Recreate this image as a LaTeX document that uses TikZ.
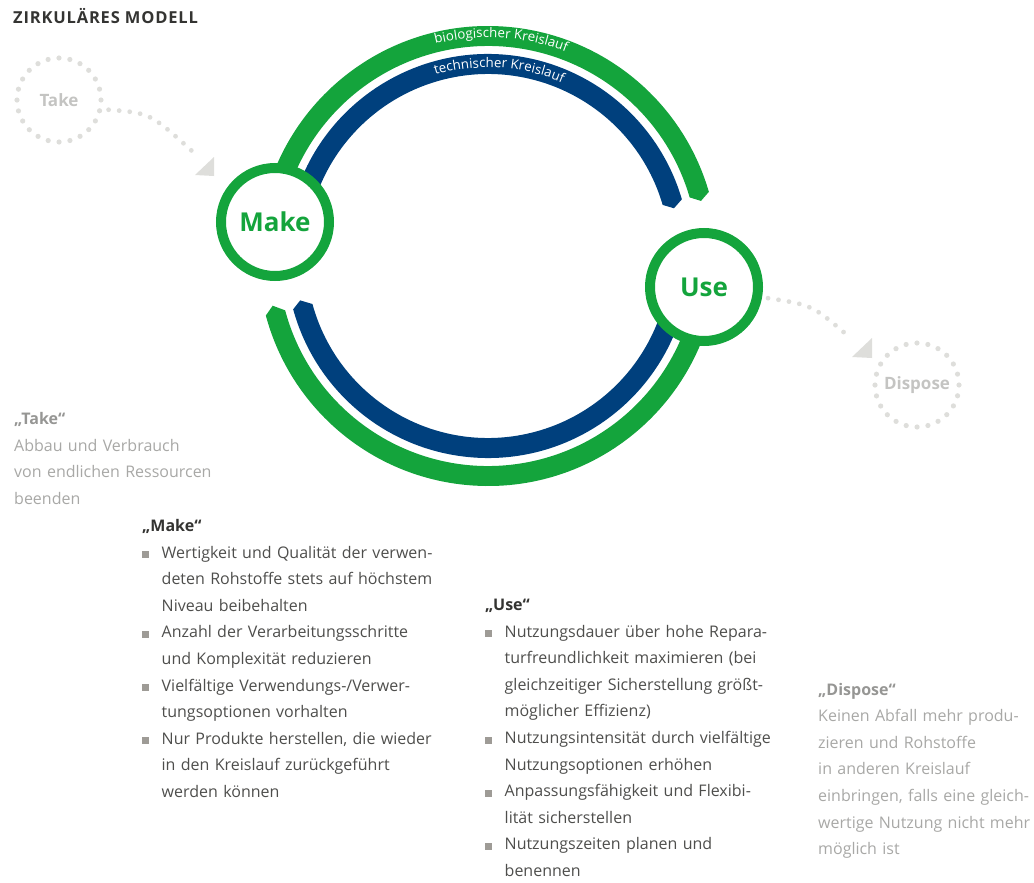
\documentclass[tikz,border=0pt]{standalone}
\usepackage{fontspec}
\setmainfont{Open Sans}
\usetikzlibrary{decorations.text}

\definecolor{cgreen}{RGB}{20,164,60}
\definecolor{cblue}{RGB}{0,64,125}
\definecolor{dotgray}{RGB}{222,222,219}
\definecolor{palegray}{RGB}{196,196,194}
\definecolor{softhead}{RGB}{150,150,148}
\definecolor{softtext}{RGB}{168,168,166}
\definecolor{darktext}{RGB}{78,78,76}
\definecolor{headtext}{RGB}{52,52,50}
\definecolor{bulletgray}{RGB}{158,155,150}

% square list marker and matching indent
\newcommand\bul{\makebox[19.5pt][l]{\textcolor{bulletgray}{\rule{7pt}{7pt}}}}
\newcommand\ind{\hspace*{19.5pt}}

% filled ring segment ending in a pointed tip
% #1 colour, #2 outer r, #3 inner r, #4 start angle, #5 end angle, #6 tip angle, #7 tip radius
\newcommand\bandseg[7]{%
  \fill[#1] ([shift={(#4:#2)}]C) arc[start angle=#4, end angle=#5, radius=#2]
    -- ([shift={(#6:#7)}]C) -- ([shift={(#5:#3)}]C)
    arc[start angle=#5, end angle=#4, radius=#3] -- cycle;}

\begin{document}
\begin{tikzpicture}[x=1pt,y=1pt,
  ring/.style={circle, draw=cgreen, line width=10pt, fill=white, minimum size=108pt,
    inner sep=0pt, text=cgreen, font=\fontsize{26}{26}\selectfont\bfseries},
  dotring/.style={circle, draw=dotgray, line width=5.2pt, line cap=round,
    dash pattern=on 0pt off 10.996pt, minimum size=84pt, inner sep=0pt,
    text=palegray, font=\fontsize{17}{17}\selectfont\bfseries},
  dotline/.style={draw=dotgray, line width=4.8pt, line cap=round,
    dash pattern=on 0pt off 10.6pt, shorten <=6pt},
  tipfill/.style={fill=dotgray},
  block/.style={anchor=base west, inner sep=0pt, align=left, text width=360pt,
    font=\fontsize{16}{26.6}\selectfont},
  arclabel/.style={decorate, decoration={text along path, text align=center,
    text color=white, text={|\fontsize{13.3}{13.3}\selectfont|#1}}},
]
\useasboundingbox (0,0) rectangle (1034,-883);

% title
\node[anchor=base west, inner sep=0pt, text=headtext,
  font=\fontsize{16.5}{16.5}\selectfont\bfseries\addfontfeatures{LetterSpace=5}]
  (title) at (13,-23.5) {ZIRKULÄRES MODELL};

% the two loops
\coordinate (C) at (488,-256);
\bandseg{cgreen}{230}{210}{175}{16.2}{14.5}{220}
\bandseg{cblue}{202}{182}{165}{16.3}{14.4}{192}
\bandseg{cgreen}{230}{210}{355}{195}{193}{221}
\bandseg{cblue}{202}{182}{350}{195.3}{193.3}{193}

\path[arclabel={biologischer Kreislauf}]
  ([shift={(120:218.5)}]C) arc[start angle=120, end angle=53, radius=218.5];
\path[arclabel={technischer Kreislauf}]
  ([shift={(124:188.5)}]C) arc[start angle=124, end angle=49, radius=188.5];

% stations
\node[ring] (make) at (275,-222) {Make};
\node[ring] (use) at (704,-287) {Use};
\node[dotring] (take) at (59,-100) {Take};
\node[dotring] (dispose) at (917,-385) {Dispose};

% dotted connectors with their heads
\coordinate (takeEnd) at (192,-151);
\draw[dotline] (take.-12) .. controls (150,-113) .. (takeEnd);
\coordinate (takeTip) at (214,-176);
\fill[tipfill] (takeTip) -- ++(-19,1) -- ++(19,18) -- cycle;

\coordinate (useEnd) at (847,-335);
\draw[dotline] (use.-10) .. controls (812,-305) .. (useEnd);
\coordinate (disposeTip) at (872,-358);
\fill[tipfill] (disposeTip) -- ++(-20,1) -- ++(20,19) -- cycle;

% text blocks
\node[block, text=softtext] (taketext) at (14,-424.5) {%
  \textcolor{softhead}{\bfseries „Take“}\\
  Abbau und Verbrauch\\
  von endlichen Ressourcen\\
  beenden};

\node[block, text=darktext] (maketext) at (142,-531.5) {%
  \textcolor{headtext}{\bfseries „Make“}\\
  \bul Wertigkeit und Qualität der verwen-\\
  \ind deten Rohstoffe stets auf höchstem\\
  \ind Niveau beibehalten\\
  \bul Anzahl der Verarbeitungsschritte\\
  \ind und Komplexität reduzieren\\
  \bul Vielfältige Verwendungs-/Verwer-\\
  \ind tungsoptionen vorhalten\\
  \bul Nur Produkte herstellen, die wieder\\
  \ind in den Kreislauf zurückgeführt\\
  \ind werden können};

\node[block, text=darktext] (usetext) at (485,-610.5) {%
  \textcolor{headtext}{\bfseries „Use“}\\
  \bul Nutzungsdauer über hohe Repara-\\
  \ind turfreundlichkeit maximieren (bei\\
  \ind gleichzeitiger Sicherstellung größt-\\
  \ind möglicher Effizienz)\\
  \bul Nutzungsintensität durch vielfältige\\
  \ind Nutzungsoptionen erhöhen\\
  \bul Anpassungsfähigkeit und Flexibi-\\
  \ind lität sicherstellen\\
  \bul Nutzungszeiten planen und\\
  \ind benennen};

\node[block, text=softtext, text width=215pt] (disposetext) at (818,-695) {%
  \textcolor{softhead}{\bfseries „Dispose“}\\
  Keinen Abfall mehr produ-\\
  zieren und Rohstoffe\\
  in anderen Kreislauf\\
  einbringen, falls eine gleich-\\
  wertige Nutzung nicht mehr\\
  möglich ist};
\end{tikzpicture}
\end{document}
